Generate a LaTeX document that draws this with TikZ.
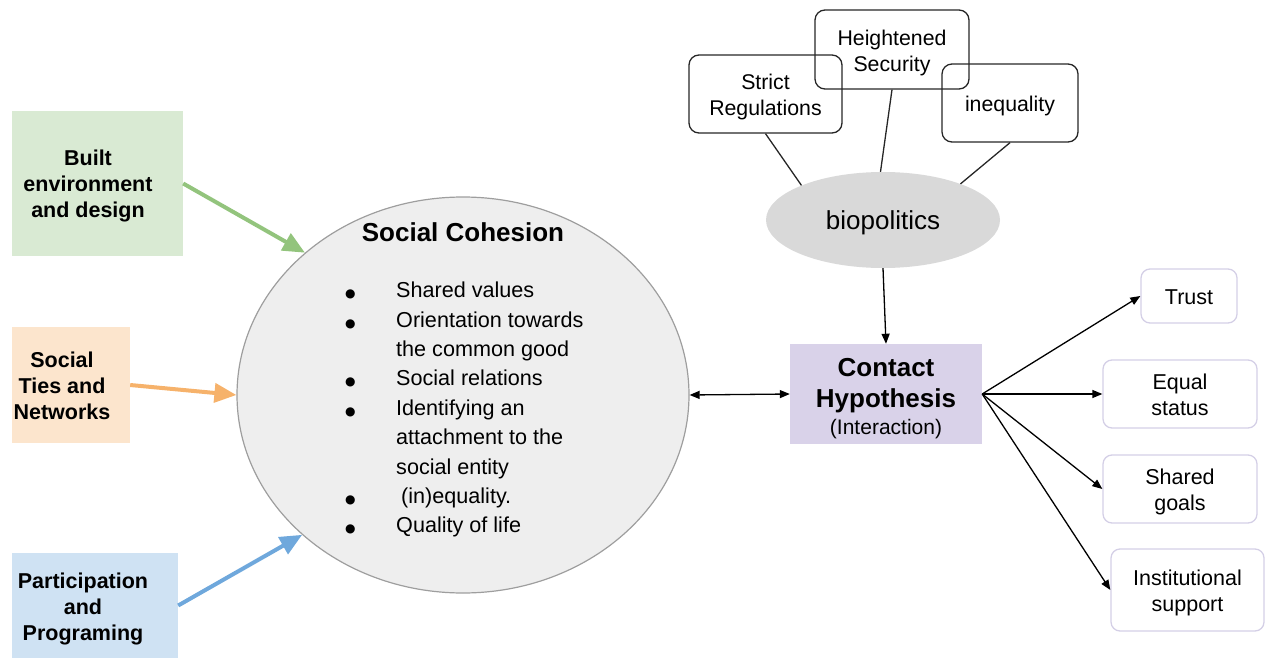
\documentclass[tikz,border=0pt]{standalone}
\usepackage{fontspec}
\setmainfont{Liberation Sans}
\newfontfamily\symfont{DejaVu Sans}
\usetikzlibrary{shapes.geometric,arrows.meta}

\definecolor{greenbox}{HTML}{D9EAD3}
\definecolor{orangebox}{HTML}{FCE5CD}
\definecolor{bluebox}{HTML}{CFE2F3}
\definecolor{purplebox}{HTML}{D9D2E9}
\definecolor{greenarrow}{HTML}{93C47D}
\definecolor{orangearrow}{HTML}{F6B26B}
\definecolor{bluearrow}{HTML}{6FA8DC}
\definecolor{cohfill}{HTML}{EEEEEE}
\definecolor{cohline}{HTML}{9E9E9E}
\definecolor{biofill}{HTML}{D9D9D9}
\definecolor{outline}{HTML}{D4CFE6}

% bullet of the cohesion list
\newcommand{\dotitem}{\makebox[52pt][l]{\hspace*{1pt}{\symfont\fontsize{12}{12}\selectfont ●}}}
% pad a label on top so that it sits a little lower in its node
\newcommand{\dropby}[2]{\raisebox{0pt}[\dimexpr\height+#1\relax][\depth]{#2}}
\newcommand{\lines}[1]{\begin{tabular}{@{}c@{}}#1\end{tabular}}

\tikzset{
  srcbox/.style={rectangle, inner sep=0pt, align=center,
    font=\fontsize{21.5}{26}\selectfont\bfseries},
  thick arrow/.style={line width=4pt,
    -{Triangle[length=22pt,width=19pt]}},
  thin arrow/.style={line width=1.3pt, black,
    -{Triangle[length=10pt,width=8pt]}},
  topbox/.style={rectangle, rounded corners=10pt, draw=black!85,
    line width=1.3pt, inner sep=0pt, align=center,
    font=\fontsize{21.3}{26}\selectfont},
  outbox/.style={rectangle, rounded corners=9pt, draw=outline,
    line width=1.3pt, inner sep=0pt, align=center,
    font=\fontsize{21.5}{26}\selectfont},
  tie/.style={line width=1.3pt, black!85},
}

\begin{document}
\begin{tikzpicture}[x=1pt,y=-1pt]
\useasboundingbox (0,0) rectangle (1266,658);

% influencing factors on the left
\node[srcbox, fill=greenbox, minimum width=171pt, minimum height=145pt]
  (built) at (97.5,183.5)
  {\dropby{6pt}{\lines{Built\\environment\\and design}}\hspace*{19pt}};
\node[srcbox, fill=orangebox, minimum width=118pt, minimum height=116pt]
  (ties) at (71,385)
  {\dropby{6pt}{\lines{Social\\Ties and\\Networks}}\hspace*{18pt}};
\node[srcbox, fill=bluebox, minimum width=166pt, minimum height=105pt]
  (part) at (95,605.5)
  {\dropby{8pt}{\lines{Participation\\and\\Programing}}\hspace*{24pt}};

% social cohesion
\node[ellipse, fill=cohfill, draw=cohline, line width=1.2pt,
  minimum width=452pt, minimum height=396pt, inner sep=0pt]
  (coh) at (463,395) {};
\node[font=\fontsize{26}{30}\selectfont\bfseries, inner sep=0pt]
  (cohtitle) at (463,232) {Social Cohesion};
\node[anchor=north west, inner sep=0pt, font=\fontsize{21.6}{29.4}\selectfont]
  (cohlist) at (344,277)
  {\begin{tabular}{@{}l@{}l@{}}
   \dotitem & Shared values\\
   \dotitem & Orientation towards\\
    & the common good\\
   \dotitem & Social relations\\
   \dotitem & Identifying an\\
    & attachment to the\\
    & social entity\\
   \dotitem & \hspace*{5pt}(in)equality.\\
   \dotitem & Quality of life
   \end{tabular}};

\draw[thick arrow, greenarrow] (built.east) -- (coh.138);
\draw[thick arrow, orangearrow] (ties.east) -- (coh.180);
\draw[thick arrow, bluearrow] (part.east) -- (coh.221);

% contact hypothesis
\node[rectangle, fill=purplebox, minimum width=192pt, minimum height=100pt,
  inner sep=0pt] (contact) at (886,394) {};
\node[font=\fontsize{26}{31}\selectfont\bfseries, align=center, inner sep=0pt]
  (contacttxt) at (886,386) {Contact\\Hypothesis};
\node[font=\fontsize{21}{26}\selectfont, inner sep=0pt]
  (interaction) at (886,429) {(Interaction)};

\draw[line width=1.3pt, {Triangle[length=10pt,width=8pt]}-{Triangle[length=10pt,width=8pt]}]
  (coh.east) -- (contact.west);

% biopolitics and what feeds into it
\node[ellipse, fill=biofill, minimum width=234pt, minimum height=96pt,
  inner sep=0pt, font=\fontsize{26}{30}\selectfont]
  (bio) at (883,220) {\dropby{5pt}{biopolitics}};

\node[topbox, minimum width=153pt, minimum height=78pt]
  (strict) at (765.5,94) {\dropby{6pt}{\lines{Strict\\Regulations}}};
\node[topbox, minimum width=154pt, minimum height=79pt]
  (secur) at (892,49.5) {\dropby{7pt}{\lines{Heightened\\Security}}};
\node[topbox, minimum width=136pt, minimum height=78pt]
  (ineq) at (1010,103) {\dropby{6pt}{inequality}};

\draw[tie] (strict.south) -- (bio.157);
\draw[tie] (secur.south) -- (bio.93);
\draw[tie] (ineq.south) -- (bio.25);

\draw[thin arrow] (bio.south) -- (contact.north);

% outcomes
\node[outbox, minimum width=96pt, minimum height=54pt]
  (trust) at (1189,296) {\dropby{2pt}{Trust}};
\node[outbox, minimum width=154pt, minimum height=68pt]
  (equal) at (1180,394) {\dropby{6pt}{\lines{Equal\\status}}};
\node[outbox, minimum width=154pt, minimum height=68pt]
  (goals) at (1180,489) {\dropby{6pt}{\lines{Shared\\goals}}};
\node[outbox, minimum width=153pt, minimum height=82pt]
  (inst) at (1187.5,590) {\dropby{6pt}{\lines{Institutional\\support}}};

\draw[thin arrow] (contact.east) -- (trust.west);
\draw[thin arrow] (contact.east) -- (equal.west);
\draw[thin arrow] (contact.east) -- (goals.west);
\draw[thin arrow] (contact.east) -- (inst.west);
\end{tikzpicture}
\end{document}
